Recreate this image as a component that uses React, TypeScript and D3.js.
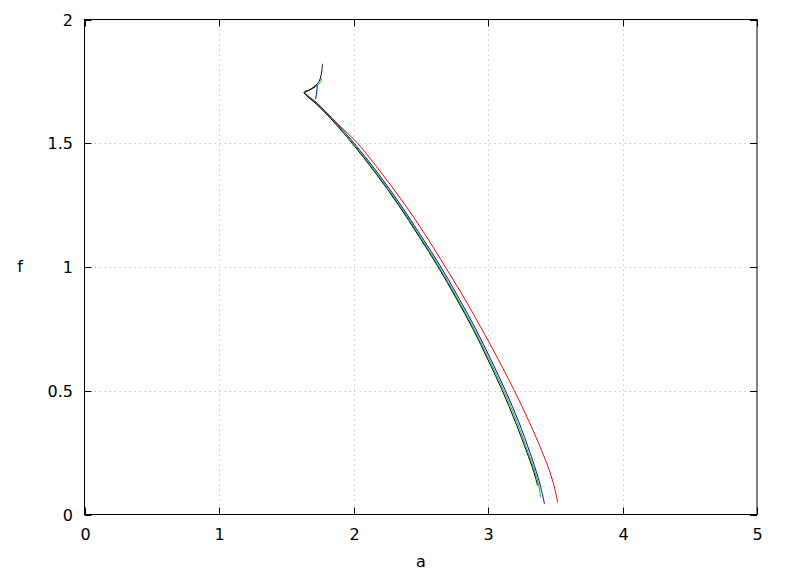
import React from "react";
import * as d3 from "d3";

const xTicks = [0, 1, 2, 3, 4, 5];
const yTicks = [0, 0.5, 1, 1.5, 2];
const yTickLabels = ["0", "0.5", "1", "1.5", "2"];

const redA = [1.716, 1.675, 1.642, 1.735, 1.843, 1.938, 2.03, 2.215, 2.385, 2.54, 2.683, 2.823, 2.953, 3.078, 3.196, 3.306, 3.405, 3.465, 3.5, 3.518];
const redF = [1.733, 1.716, 1.706, 1.66, 1.6, 1.55, 1.5, 1.375, 1.25, 1.125, 1.0, 0.875, 0.75, 0.625, 0.5, 0.375, 0.25, 0.164, 0.097, 0.047];

const blueA = [1.718, 1.728, 1.705, 1.668, 1.636, 1.735, 1.84, 1.925, 2.005, 2.187, 2.352, 2.503, 2.65, 2.782, 2.908, 3.022, 3.13, 3.228, 3.312, 3.372, 3.398, 3.42];
const blueF = [1.678, 1.736, 1.726, 1.714, 1.706, 1.657, 1.6, 1.55, 1.5, 1.375, 1.25, 1.125, 1.0, 0.875, 0.75, 0.625, 0.5, 0.375, 0.25, 0.151, 0.097, 0.043];

const greenA = [1.764, 1.753, 1.735, 1.70, 1.665, 1.634, 1.733, 1.836, 1.92, 1.998, 2.178, 2.343, 2.493, 2.638, 2.77, 2.896, 3.01, 3.118, 3.215, 3.299, 3.338, 3.361, 3.377, 3.393];
const greenF = [1.762, 1.745, 1.734, 1.723, 1.713, 1.706, 1.656, 1.6, 1.55, 1.5, 1.375, 1.25, 1.125, 1.0, 0.875, 0.75, 0.625, 0.5, 0.375, 0.25, 0.191, 0.151, 0.117, 0.067];

const blackA = [1.770, 1.765, 1.752, 1.732, 1.702, 1.665, 1.633, 1.728, 1.83, 1.912, 1.99, 2.17, 2.335, 2.485, 2.63, 2.762, 2.888, 3.0, 3.107, 3.203, 3.29, 3.329, 3.352, 3.368];
const blackF = [1.821, 1.794, 1.760, 1.740, 1.724, 1.713, 1.706, 1.656, 1.6, 1.55, 1.5, 1.375, 1.25, 1.125, 1.0, 0.875, 0.75, 0.625, 0.5, 0.375, 0.25, 0.191, 0.151, 0.117];

const series = [
  { name: "red", a: redA, f: redF, color: "#ff0000" },
  { name: "blue", a: blueA, f: blueF, color: "#0000ff" },
  { name: "green", a: greenA, f: greenF, color: "#00d000" },
  { name: "black", a: blackA, f: blackF, color: "#000000" },
];

const W = 788;
const H = 576;
const left = 84.5;
const right = 757;
const top = 19.5;
const bottom = 514.5;

export default function App() {
  const x = d3.scaleLinear().domain([0, 5]).range([left, right]);
  const y = d3.scaleLinear().domain([0, 2]).range([bottom, top]);
  const line = d3
    .line<[number, number]>()
    .x((d) => x(d[0]))
    .y((d) => y(d[1]))
    .curve(d3.curveCatmullRom.alpha(0.5));
  const font = "'DejaVu Sans', sans-serif";
  return (
    <div style={{ position: "fixed", left: 0, top: 0, width: W, height: H, background: "#fff" }}>
      <svg width={W} height={H} style={{ display: "block" }}>
        <rect x={0} y={0} width={W} height={H} fill="#fff" />
        {xTicks.slice(1, -1).map((t) => (
          <line key={"gx" + t} x1={Math.round(x(t)) + 0.5} x2={Math.round(x(t)) + 0.5} y1={top} y2={bottom}
            stroke="#c8c8c8" strokeWidth={1} strokeDasharray="1.5,3.5" />
        ))}
        {yTicks.slice(1, -1).map((t) => (
          <line key={"gy" + t} y1={Math.round(y(t)) + 0.5} y2={Math.round(y(t)) + 0.5} x1={left} x2={right}
            stroke="#c8c8c8" strokeWidth={1} strokeDasharray="1.5,3.5" />
        ))}
        {series.map((s) => (
          <path key={s.name} d={line(s.a.map((a, i) => [a, s.f[i]] as [number, number])) || ""}
            fill="none" stroke={s.color} strokeWidth={1} />
        ))}
        <rect x={left} y={top} width={right - left} height={bottom - top} fill="none" stroke="#000" strokeWidth={1} />
        {xTicks.map((t) => {
          const px = Math.round(x(t)) + 0.5;
          return (
            <g key={"tx" + t}>
              <line x1={px} x2={px} y1={bottom} y2={bottom - 7} stroke="#000" />
              <line x1={px} x2={px} y1={top} y2={top + 7} stroke="#000" />
              <text x={px} y={540} textAnchor="middle" fontFamily={font} fontSize={16} fill="#000">{t}</text>
            </g>
          );
        })}
        {yTicks.map((t, i) => {
          const py = Math.round(y(t)) + 0.5;
          return (
            <g key={"ty" + t}>
              <line x1={left} x2={left + 7} y1={py} y2={py} stroke="#000" />
              <line x1={right} x2={right - 7} y1={py} y2={py} stroke="#000" />
              <text x={73} y={py + 5.5} textAnchor="end" fontFamily={font} fontSize={16} fill="#000">{yTickLabels[i]}</text>
            </g>
          );
        })}
        <text x={421} y={567} textAnchor="middle" fontFamily={font} fontSize={16} fill="#000">a</text>
        <text x={20} y={272} textAnchor="middle" fontFamily={font} fontSize={16} fill="#000">f</text>
      </svg>
    </div>
  );
}
